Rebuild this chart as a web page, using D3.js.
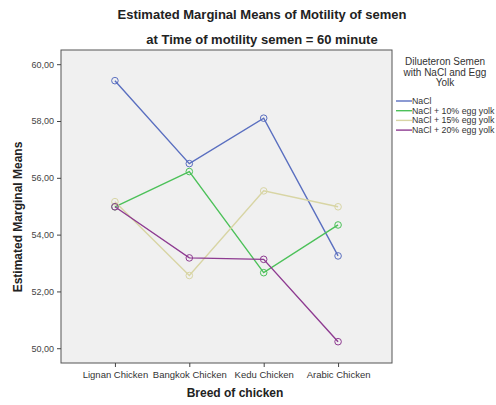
<!DOCTYPE html>
<html><head><meta charset="utf-8">
<script src="https://cdn.jsdelivr.net/npm/d3@7"></script>
<style>body{margin:0;background:#fff;}svg{display:block;font-family:"Liberation Sans",Arial,sans-serif;}</style>
</head><body>
<script>
const categories = ["Lignan Chicken","Bangkok Chicken","Kedu Chicken","Arabic Chicken"];
const seriesNames = ["NaCl","NaCl + 10% egg yolk","NaCl + 15% egg yolk","NaCl + 20% egg yolk"];
const naCl   = [59.42, 56.50, 58.10, 53.25];
const yolk10 = [54.98, 56.22, 52.66, 54.34];
const yolk15 = [55.16, 52.56, 55.54, 54.98];
const yolk20 = [54.98, 53.18, 53.13, 50.23];
const yTicks = [50, 52, 54, 56, 58, 60];
const colors = ["#5a6fc0","#4cc159","#d8d5a4","#8e3b91"];
const series = [naCl, yolk10, yolk15, yolk20];

const W = 496, H = 405;
const svg = d3.select("body").append("svg").attr("width", W).attr("height", H);
const L = 61, R = 392, T = 50, B = 363;

const x = d3.scalePoint().domain(categories).range([L, R]).padding(0.725);
const y = d3.scaleLinear().domain([49.48, 60.50]).range([B, T]);

svg.append("rect").attr("x", L).attr("y", T).attr("width", R - L).attr("height", B - T)
  .attr("fill", "#f0f0f0").attr("stroke", "#555").attr("stroke-width", 1);

// y axis
const ya = svg.append("g").attr("transform", `translate(${L},0)`)
  .call(d3.axisLeft(y).tickValues(yTicks).tickSize(4).tickFormat(d => d3.format(".2f")(d).replace(".", ",")));
ya.select(".domain").remove();
ya.selectAll("line").attr("stroke", "#444");
ya.selectAll("text").attr("font-size", 9).attr("fill", "#444").attr("font-family", "Liberation Sans, Arial, sans-serif");

// x axis
const xa = svg.append("g").attr("transform", `translate(0,${B})`)
  .call(d3.axisBottom(x).tickSize(4).tickPadding(4));
xa.select(".domain").remove();
xa.selectAll("line").attr("stroke", "#444");
xa.selectAll("text").attr("font-size", 9.5).attr("fill", "#333").attr("font-family", "Liberation Sans, Arial, sans-serif");

// lines
const line = d3.line().x((d, i) => x(categories[i])).y(d => y(d));
series.forEach((s, k) => {
  svg.append("path").datum(s).attr("d", line).attr("fill", "none")
    .attr("stroke", colors[k]).attr("stroke-width", 1.4);
  svg.selectAll(null).data(s).enter().append("circle")
    .attr("cx", (d, i) => x(categories[i])).attr("cy", d => y(d)).attr("r", 3.3)
    .attr("fill", "none").attr("stroke", colors[k]).attr("stroke-width", 1);
});

// titles
svg.append("text").attr("x", 262).attr("y", 19).attr("text-anchor", "middle")
  .attr("font-size", 13).attr("font-weight", "bold").attr("fill", "#222")
  .text("Estimated Marginal Means of Motility of semen");
svg.append("text").attr("x", 262).attr("y", 44).attr("text-anchor", "middle")
  .attr("font-size", 13).attr("font-weight", "bold").attr("fill", "#222")
  .text("at Time of motility semen = 60 minute");
svg.append("text").attr("transform", "translate(22,217) rotate(-90)").attr("text-anchor", "middle")
  .attr("font-size", 12).attr("font-weight", "bold").attr("fill", "#222")
  .text("Estimated Marginal Means");
svg.append("text").attr("x", 235).attr("y", 397).attr("text-anchor", "middle")
  .attr("font-size", 12).attr("font-weight", "bold").attr("fill", "#222")
  .text("Breed of chicken");

// legend
const legTitle = ["Dilueteron Semen", "with NaCl and Egg", "Yolk"];
legTitle.forEach((t, i) => svg.append("text").attr("x", 445).attr("y", 65 + i * 10.5)
  .attr("text-anchor", "middle").attr("font-size", 10).attr("fill", "#333").text(t));
seriesNames.forEach((n, i) => {
  const yy = 101 + i * 9.7;
  svg.append("line").attr("x1", 396).attr("x2", 412).attr("y1", yy).attr("y2", yy)
    .attr("stroke", colors[i]).attr("stroke-width", 1.4);
  svg.append("text").attr("x", 412).attr("y", yy + 3).attr("font-size", 8.8).attr("fill", "#333").text(n);
});
</script>
</body></html>
